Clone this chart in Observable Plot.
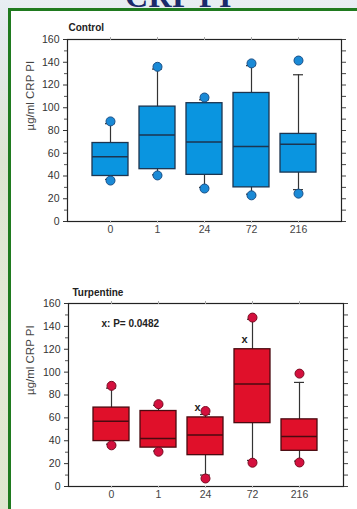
<!DOCTYPE html>
<html>
<head>
<meta charset="utf-8">
<script src="https://cdn.jsdelivr.net/npm/d3@7"></script>
<script src="https://cdn.jsdelivr.net/npm/@observablehq/plot@0.6"></script>
<style>
  html, body { margin: 0; padding: 0; }
  body {
    width: 357px; height: 509px; overflow: hidden; position: relative;
    background: linear-gradient(to bottom, #e8eef3 0px, #e4eaee 30px, #dde5d2 160px, #e4e9d6 330px, #dfe6cf 509px);
    font-family: Arial, "Liberation Sans", sans-serif;
  }
  #title {
    position: absolute; left: 0; top: -20px; width: 357px; text-align: center;
    font: bold 32px/32px "Liberation Serif", "DejaVu Serif", serif; color: #1b2a6b;
    letter-spacing: 0.5px;
  }
  #panel {
    position: absolute; left: 8px; top: 8px; width: 360px; height: 520px;
    background: #ffffff; border-left: 3.5px solid #1f7a1f; border-top: 3.5px solid #1f7a1f;
  }
  .chart { position: absolute; left: 0; }
  #c1 { top: 0; }
  #c2 { top: 260px; }
</style>
</head>
<body>
<div id="title">CRP PI</div>
<div id="panel"></div>
<div class="chart" id="c1"></div>
<div class="chart" id="c2"></div>
<script>
// ---- data ----
const categories = ["0", "1", "24", "72", "216"];

const controlQ1     = [40, 46, 41, 30, 43];
const controlMedian = [57, 76, 70, 66, 68];
const controlQ3     = [69, 101, 104, 113, 77];
const controlWhiskLo = [37, 41, 30, 24, 28];
const controlWhiskHi = [86, 134, 107, 137, 129];
const controlDotLo  = [36, 40.5, 29, 23, 24.5];
const controlDotHi  = [88, 136, 109, 139, 141.5];

const turpQ1     = [39.7, 34, 27.4, 55.4, 31.2];
const turpMedian = [57, 42, 45, 89.6, 43.8];
const turpQ3     = [69, 66, 60.4, 120, 58.7];
const turpWhiskLo = [37, 31, 10, 22.8, 22.2];
const turpWhiskHi = [86, 71, 63, 146.2, 91];
const turpDotLo  = [36, 30.4, 7, 20.8, 21];
const turpDotHi  = [88, 72, 66, 147.7, 98.7];

const yMajorTicks = [0, 20, 40, 60, 80, 100, 120, 140, 160];
const yAllTicks = [0, 10, 20, 30, 40, 50, 60, 70, 80, 90, 100, 110, 120, 130, 140, 150, 160];
const yMinorTicks = [10, 30, 50, 70, 90, 110, 130, 150];

const sigMarkCats = ["24", "72"];
const sigMarkValues = [69, 128.7];
const sigMarkText = ["x", "x"];
const pValueText = "x: P= 0.0482";
const yLabel = "µg/ml CRP PI";

function rowsFrom(q1, med, q3, wlo, whi, dlo, dhi) {
  return categories.map((c, i) => ({cat: c, q1: q1[i], med: med[i], q3: q3[i], wlo: wlo[i], whi: whi[i], dlo: dlo[i], dhi: dhi[i]}));
}

function boxChart(o) {
  const rows = o.rows;
  const marks = [
    Plot.frame({stroke: "#222", strokeWidth: 1.2}),
    Plot.axisY({ticks: yMajorTicks, tickSize: 4, tickPadding: 4, label: null, fontSize: 10.5, fill: "#333", stroke: "#333"}),
    Plot.axisY({ticks: yMinorTicks, tickSize: 3, tickFormat: () => "", label: null, stroke: "#555"}),
    Plot.axisY({anchor: "right", ticks: yAllTicks, tickSize: 4, tickFormat: () => "", label: null, stroke: "#444"}),
    Plot.axisX({anchor: "top", tickSize: 3, tickFormat: () => "", label: null, stroke: "#aaa"}),
    Plot.axisX({anchor: "bottom", tickSize: 2, tickPadding: 2, label: null, fontSize: 10.5, fill: "#444", stroke: "#bbb"}),
    Plot.ruleX(rows, {x: "cat", y1: "wlo", y2: "whi", stroke: "#333", strokeWidth: 1.2}),
    Plot.tickY(rows, {x: "cat", y: "wlo", stroke: "#333", strokeWidth: 1.2, insetLeft: o.capInset, insetRight: o.capInset}),
    Plot.tickY(rows, {x: "cat", y: "whi", stroke: "#333", strokeWidth: 1.2, insetLeft: o.capInset, insetRight: o.capInset}),
    Plot.barY(rows, {x: "cat", y1: "q1", y2: "q3", fill: o.fill, stroke: o.stroke, strokeWidth: 1.3}),
    Plot.tickY(rows, {x: "cat", y: "med", stroke: o.stroke, strokeWidth: 1.5}),
    Plot.dot(rows, {x: "cat", y: "dlo", r: 4.5, fill: o.dotFill, stroke: o.dotStroke, strokeWidth: 1}),
    Plot.dot(rows, {x: "cat", y: "dhi", r: 4.5, fill: o.dotFill, stroke: o.dotStroke, strokeWidth: 1}),
    Plot.text([o.title], {frameAnchor: "top-left", dx: o.titleDx, dy: o.titleDy, textAnchor: "start", fontWeight: "bold", fontSize: 10, fill: "#222"}),
    Plot.text([yLabel], {frameAnchor: "left", rotate: -90, dx: o.yLabelDx, fontSize: 11.5, fill: "#444"})
  ].concat(o.extra || []);
  return Plot.plot({
    width: 357,
    height: o.height,
    marginTop: o.marginTop,
    marginBottom: o.marginBottom,
    marginLeft: o.marginLeft,
    marginRight: o.marginRight,
    style: {background: "transparent", fontFamily: "Arial, 'Liberation Sans', sans-serif", overflow: "visible"},
    x: {type: "band", domain: categories, paddingInner: o.pi, paddingOuter: o.po},
    y: {domain: [0, 160]},
    marks
  });
}

const controlRows = rowsFrom(controlQ1, controlMedian, controlQ3, controlWhiskLo, controlWhiskHi, controlDotLo, controlDotHi);
const turpRows = rowsFrom(turpQ1, turpMedian, turpQ3, turpWhiskLo, turpWhiskHi, turpDotLo, turpDotHi);

document.getElementById("c1").appendChild(boxChart({
  rows: controlRows, height: 250, marginTop: 39, marginBottom: 29, marginLeft: 67, marginRight: 16,
  pi: 0.235, po: 0.49, capInset: 13,
  fill: "#0a95e0", stroke: "#1c3550", dotFill: "#1a8ad6", dotStroke: "#1a4f86",
  title: "Control", titleDx: 1, titleDy: -16, yLabelDx: -37
}));

const sigRows = sigMarkCats.map((c, i) => ({cat: c, v: sigMarkValues[i], t: sigMarkText[i]}));

document.getElementById("c2").appendChild(boxChart({
  rows: turpRows, height: 249, marginTop: 43, marginBottom: 23, marginLeft: 68, marginRight: 14,
  pi: 0.227, po: 0.508, capInset: 13,
  fill: "#e0102a", stroke: "#4a0a10", dotFill: "#d4103e", dotStroke: "#7a0a20",
  title: "Turpentine", titleDx: 4, titleDy: -15, yLabelDx: -38,
  extra: [
    Plot.text(sigRows, {x: "cat", y: "v", text: "t", dx: -8, fontWeight: "bold", fontSize: 11, fill: "#222"}),
    Plot.text([{cat: "0", v: 142}], {x: "cat", y: "v", text: () => pValueText, dx: -10, textAnchor: "start", fontWeight: "bold", fontSize: 10, fill: "#222"})
  ]
}));
</script>
</body>
</html>
